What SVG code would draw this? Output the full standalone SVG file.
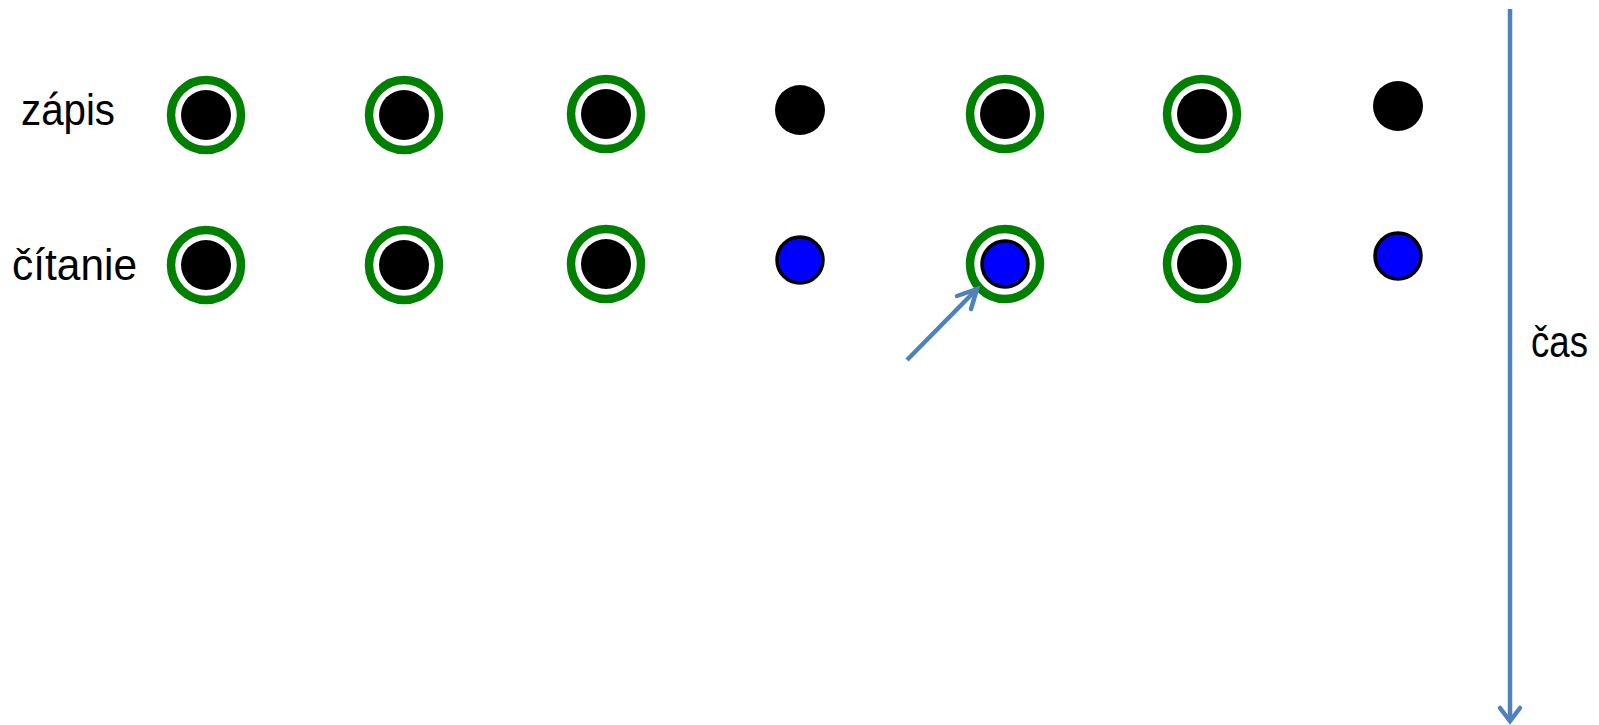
<svg xmlns="http://www.w3.org/2000/svg" width="1599" height="725" viewBox="0 0 1599 725">
<style>
.lbl{font-family:"Liberation Sans",Arial,sans-serif;font-size:44px;fill:#000}
.ring{fill:none;stroke:#008000;stroke-width:8.5}
.dot{fill:#000}
.bdot{fill:#0000FF;stroke:#000;stroke-width:3.5}
.conn{stroke:#4F81BD;stroke-width:4.5;fill:none;stroke-linecap:butt}
.head{stroke:#4F81BD;stroke-width:4.5;fill:none;stroke-linecap:round;stroke-linejoin:miter}
</style>
<rect width="1599" height="725" fill="#fff"/>
<g id="labels">
<text id="lbl-zapis" class="lbl" x="21" y="125" textLength="94" lengthAdjust="spacingAndGlyphs">zápis</text>
<text id="lbl-citanie" class="lbl" x="12" y="280" textLength="125" lengthAdjust="spacingAndGlyphs">čítanie</text>
<text id="lbl-cas" class="lbl" x="1531" y="357" textLength="57" lengthAdjust="spacingAndGlyphs">čas</text>
</g>
<g id="w1"><circle class="ring" cx="206" cy="115" r="35"/><circle class="dot" cx="206" cy="115" r="25"/></g>
<g id="w2"><circle class="ring" cx="404" cy="115" r="35"/><circle class="dot" cx="404" cy="115" r="25"/></g>
<g id="w3"><circle class="ring" cx="606" cy="114" r="35"/><circle class="dot" cx="606" cy="114" r="25"/></g>
<g id="w4"><circle class="dot" cx="800" cy="110" r="25"/></g>
<g id="w5"><circle class="ring" cx="1005" cy="114" r="35"/><circle class="dot" cx="1005" cy="114" r="25"/></g>
<g id="w6"><circle class="ring" cx="1202" cy="114" r="35"/><circle class="dot" cx="1202" cy="114" r="25"/></g>
<g id="w7"><circle class="dot" cx="1398" cy="106" r="25"/></g>
<g id="r1"><circle class="ring" cx="206" cy="265" r="35"/><circle class="dot" cx="206" cy="265" r="25"/></g>
<g id="r2"><circle class="ring" cx="404" cy="265" r="35"/><circle class="dot" cx="404" cy="265" r="25"/></g>
<g id="r3"><circle class="ring" cx="606" cy="264" r="35"/><circle class="dot" cx="606" cy="264" r="25"/></g>
<g id="r4"><circle class="bdot" cx="800" cy="260" r="23"/></g>
<g id="r5"><circle class="ring" cx="1005" cy="264" r="35"/><circle class="bdot" cx="1005" cy="264" r="23"/></g>
<g id="r6"><circle class="ring" cx="1202" cy="264" r="35"/><circle class="dot" cx="1202" cy="264" r="25"/></g>
<g id="r7"><circle class="bdot" cx="1398" cy="256" r="23"/></g>
<g id="connectors">
<line class="conn" x1="1510" y1="9" x2="1510" y2="720"/>
<polyline class="head" points="1500,708 1510,721 1520,708"/>
<line class="conn" x1="907" y1="360" x2="975" y2="291"/>
<polyline class="head" points="957,296 977,289 971,309"/>
</g>
</svg>
